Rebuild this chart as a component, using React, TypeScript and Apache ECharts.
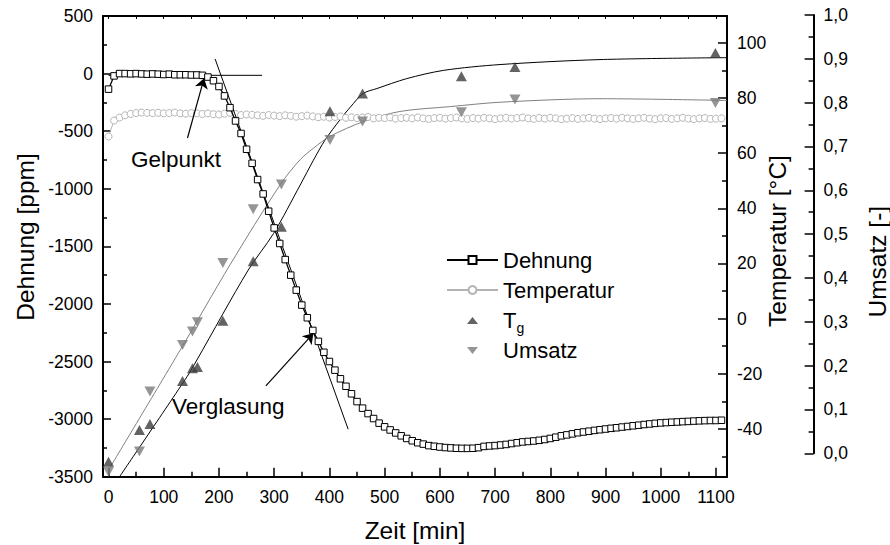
import React, { useEffect, useRef } from "react";
import * as echarts from "echarts";

// ---- data ----
const TIME = [
  0, 10, 20, 30, 40, 50, 60, 70, 80, 90, 100, 110, 120, 130, 140, 150, 160, 170, 180, 190,
  200, 210, 220, 230, 240, 250, 260, 270, 280, 290, 300, 310, 320, 330, 340, 350, 360, 370, 380, 390,
  400, 410, 420, 430, 440, 450, 460, 470, 480, 490, 500, 510, 520, 530, 540, 550, 560, 570, 580, 590,
  600, 610, 620, 630, 640, 650, 660, 670, 680, 690, 700, 710, 720, 730, 740, 750, 760, 770, 780, 790,
  800, 810, 820, 830, 840, 850, 860, 870, 880, 890, 900, 910, 920, 930, 940, 950, 960, 970, 980, 990,
  1000, 1010, 1020, 1030, 1040, 1050, 1060, 1070, 1080, 1090, 1100, 1110,
];

const DEHNUNG = [
  -135, -20, 0, 0, -2, 0, -3, -5, -3, -5, -8, -5, -10, -10, -10, -12, -12, -15, -30, -62,
  -112, -194, -296, -411, -520, -657, -779, -920, -1045, -1195, -1340, -1475, -1615, -1750, -1880, -2010, -2120, -2230, -2325, -2420,
  -2500, -2575, -2650, -2715, -2780, -2848, -2905, -2952, -2995, -3035, -3067, -3094, -3120, -3145, -3168, -3188, -3205, -3217, -3230, -3236,
  -3242, -3247, -3250, -3253, -3254, -3254, -3253, -3248, -3237, -3233, -3230, -3225, -3220, -3212, -3205, -3198, -3194, -3190, -3184, -3177,
  -3168, -3157, -3145, -3137, -3128, -3118, -3112, -3105, -3098, -3092, -3086, -3080, -3075, -3069, -3064, -3058, -3053, -3047, -3042, -3037,
  -3033, -3030, -3027, -3025, -3022, -3020, -3017, -3015, -3013, -3012, -3012, -3010,
];

const TEMPERATUR = [
  66.0, 71.8, 72.9, 73.7, 74.2, 74.5, 74.7, 74.6, 74.5, 74.6, 74.4, 74.5, 74.7, 74.4, 74.3, 74.5, 74.4, 74.2, 74.4, 74.1,
  74.0, 74.3, 74.6, 74.2, 73.8, 74.0, 73.9, 73.7, 73.5, 73.8, 73.6, 73.4, 73.7, 73.5, 73.2, 73.4, 73.6, 73.3, 73.0, 73.2,
  72.9, 73.1, 73.3, 72.8, 73.0, 72.7, 72.9, 73.1, 72.6, 72.8, 72.7, 72.9, 72.5, 72.7, 72.8, 72.6, 72.9, 72.6, 72.4, 72.7,
  72.8, 72.5, 72.7, 72.9, 72.6, 72.4, 72.7, 72.5, 72.8, 72.6, 72.3, 72.6, 72.8, 72.5, 72.7, 72.9, 72.6, 72.4, 72.7, 72.5,
  72.8, 72.6, 72.3, 72.5, 72.7, 72.4, 72.6, 72.8, 72.5, 72.3, 72.6, 72.7, 72.5, 72.8, 72.6, 72.4, 72.6, 72.8, 72.5, 72.3,
  72.6, 72.7, 72.4, 72.6, 72.8, 72.5, 72.3, 72.6, 72.7, 72.4, 72.5, 72.6,
];

const MESS_TIME = [0, 56, 75, 134, 152, 161, 207, 262, 313, 401, 460, 639, 736, 1099];
const TG = [-51.9, -40.4, -38.2, -22.6, -18.0, -17.5, -0.8, 20.8, 33.3, 75.2, 81.6, 87.9, 91.2, 96.3];
const UMSATZ = [-0.042, 0.004, 0.141, 0.247, 0.278, 0.299, 0.434, 0.557, 0.613, 0.715, 0.757, 0.778, 0.807, 0.799];

const TG_FIT_TIME = [20, 142, 160, 253, 299, 347, 371, 392, 420, 438, 461, 486, 540, 607, 709, 890, 1120];
const TG_FIT = [-57.3, -21.1, -15.0, 17.6, 30.9, 48.4, 57.4, 64.7, 72.3, 76.7, 81.6, 83.4, 87.0, 90.0, 92.1, 93.9, 94.6];

const U_FIT_TIME = [0, 130, 220, 311, 347, 371, 401, 462, 528, 619, 709, 890, 1120];
const U_FIT = [-0.038, 0.236, 0.43, 0.613, 0.67, 0.696, 0.723, 0.757, 0.78, 0.791, 0.801, 0.809, 0.805];

// tangent lines [time, Dehnung]
const TANGENT_GEL = [[0, -15], [278, -15]];
const TANGENT_STEEP = [[193, 127], [434, -3088]];
// arrows [from, to] in [time, Dehnung]
const ARROW_GEL = [[143, -559], [173, -41]];
const ARROW_GLAS = [[285, -2712], [371, -2255]];

const X_TICKS = [0, 100, 200, 300, 400, 500, 600, 700, 800, 900, 1000, 1100];
const X_MINOR = [50, 150, 250, 350, 450, 550, 650, 750, 850, 950, 1050];
const X_TOP = [0, 50, 100, 150, 200, 250, 300, 350, 400, 450, 500, 550, 600, 650, 700, 750, 800, 850, 900, 950, 1000, 1050, 1100];
const T_TICKS = [-40, -20, 0, 20, 40, 60, 80, 100];
const T_MINOR = [-50, -30, -10, 10, 30, 50, 70, 90];

const FONT = "'Liberation Sans', Arial, sans-serif";

const zip = (a: number[], b: number[]) => a.map((v, i) => [v, b[i]]);

export default function App() {
  const ref = useRef<HTMLDivElement>(null);

  useEffect(() => {
    if (!ref.current) return;
    const chart = echarts.init(ref.current, undefined, { renderer: "svg" });

    const gridBase = { left: 103, right: 163, containLabel: false, outerBoundsMode: "none" } as any;
    const axisLine = { show: true, onZero: false, lineStyle: { color: "#000", width: 2 } };
    const noLine = { show: false, onZero: false };
    const plain = (v: number) => String(v);
    const label = { color: "#000", fontSize: 17.5, fontFamily: FONT };
    const titleStyle = { fontSize: 24.5, fontFamily: FONT, fill: "#000", align: "center", verticalAlign: "middle" };

    const option: any = {
      animation: false,
      textStyle: { fontFamily: FONT },
      grid: [
        { ...gridBase, top: 16, bottom: 68.3 },
        { ...gridBase, top: 15, bottom: 91.7 },
      ],
      xAxis: [
        {
          type: "value", gridIndex: 0, position: "bottom", min: -10, max: 1120,
          axisLine, splitLine: { show: false },
          axisTick: { show: true, inside: true, length: 9, customValues: X_TICKS, lineStyle: { color: "#000", width: 1.5 } },
          axisLabel: { ...label, margin: 11, customValues: X_TICKS, formatter: plain },
          name: "Zeit [min]", nameLocation: "middle", nameGap: 41,
          nameTextStyle: { color: "#000", fontSize: 24.5, fontFamily: FONT },
        },
        {
          type: "value", gridIndex: 0, position: "bottom", min: -10, max: 1120,
          axisLine: noLine, splitLine: { show: false }, axisLabel: { show: false },
          axisTick: { show: true, inside: true, length: 5, customValues: X_MINOR, lineStyle: { color: "#000", width: 1.5 } },
        },
        {
          type: "value", gridIndex: 0, position: "top", min: -10, max: 1120,
          axisLine, splitLine: { show: false }, axisLabel: { show: false },
          axisTick: { show: true, inside: true, length: 3, customValues: X_TOP, lineStyle: { color: "#000", width: 1 } },
        },
        { type: "value", gridIndex: 1, min: -10, max: 1120, show: false, axisLine: noLine },
      ],
      yAxis: [
        {
          type: "value", gridIndex: 0, position: "left", min: -3500, max: 500, interval: 500,
          axisLine, splitLine: { show: false },
          axisTick: { show: true, inside: true, length: 8, lineStyle: { color: "#000", width: 1.5 } },
          minorTick: { show: true, splitNumber: 2, length: 4, lineStyle: { color: "#000", width: 1.5 } },
          axisLabel: { ...label, margin: 10, formatter: plain },
        },
        {
          type: "value", gridIndex: 0, position: "right", min: -57.3, max: 109.7,
          axisLine, splitLine: { show: false },
          axisTick: { show: true, inside: true, length: 9, customValues: T_TICKS, lineStyle: { color: "#000", width: 1.5 } },
          axisLabel: { ...label, margin: 10, customValues: T_TICKS, formatter: plain },
        },
        {
          type: "value", gridIndex: 0, position: "right", min: -57.3, max: 109.7,
          axisLine: noLine, splitLine: { show: false }, axisLabel: { show: false },
          axisTick: { show: true, inside: true, length: 5, customValues: T_MINOR, lineStyle: { color: "#000", width: 1.5 } },
        },
        {
          type: "value", gridIndex: 1, position: "right", offset: 86.6, min: 0, max: 1, interval: 0.1,
          axisLine, splitLine: { show: false },
          axisTick: { show: true, inside: true, length: 9, lineStyle: { color: "#000", width: 1.5 } },
          minorTick: { show: true, splitNumber: 2, length: 5, lineStyle: { color: "#000", width: 1.5 } },
          axisLabel: { ...label, margin: 10, formatter: (v: number) => v.toFixed(1).replace(".", ",") },
        },
      ],
      legend: {
        data: [
          { name: "Dehnung" },
          { name: "Temperatur" },
          { name: "Tg", icon: "path://M0,0M51,10M20,9L25.5,2L31,9Z" },
          { name: "Umsatz", icon: "path://M0,0M51,10M20,2L31,2L25.5,9Z" },
        ],
        orient: "vertical", left: 441, top: 240, itemWidth: 51, itemHeight: 10, itemGap: 0,
        itemTextGap: 6,
        textStyle: {
          color: "#000", fontSize: 22, lineHeight: 30, fontFamily: FONT,
          rich: {
            a: { fontSize: 22, lineHeight: 30, color: "#000", fontFamily: FONT },
            b: { fontSize: 14, lineHeight: 14, verticalAlign: "bottom", color: "#000", fontFamily: FONT },
          },
        },
        formatter: (n: string) => (n === "Tg" ? "{a|T}{b|g}" : n),
      },
      graphic: [
        { type: "text", left: 131, top: 148, style: { text: "Gelpunkt", fontSize: 22.5, fontFamily: FONT, fill: "#000" } },
        { type: "text", left: 172, top: 395, style: { text: "Verglasung", fontSize: 22.5, fontFamily: FONT, fill: "#000" } },
        { type: "text", x: 25, y: 237, rotation: Math.PI / 2, style: { text: "Dehnung [ppm]", ...titleStyle } },
        { type: "text", x: 777.6, y: 241, rotation: Math.PI / 2, style: { text: "Temperatur [°C]", ...titleStyle } },
        { type: "text", x: 877.5, y: 261.7, rotation: Math.PI / 2, style: { text: "Umsatz [-]", ...titleStyle } },
      ],
      series: [
        {
          name: "Tangente Gel", type: "line", xAxisIndex: 0, yAxisIndex: 0, data: TANGENT_GEL,
          symbol: "none", lineStyle: { color: "#000", width: 1 }, silent: true, z: 3,
          markLine: {
            silent: true, symbol: ["none", "arrow"], symbolSize: 10,
            lineStyle: { color: "#000", width: 1.2, type: "solid" }, label: { show: false },
            data: [
              [{ coord: ARROW_GEL[0] }, { coord: ARROW_GEL[1] }],
              [{ coord: ARROW_GLAS[0] }, { coord: ARROW_GLAS[1] }],
            ],
          },
        },
        {
          name: "Tangente Glas", type: "line", xAxisIndex: 0, yAxisIndex: 0, data: TANGENT_STEEP,
          symbol: "none", lineStyle: { color: "#000", width: 1 }, silent: true, z: 3,
        },
        {
          name: "Temperatur", type: "line", xAxisIndex: 0, yAxisIndex: 1, data: zip(TIME, TEMPERATUR),
          symbol: "circle", symbolSize: 7, showAllSymbol: true,
          itemStyle: { color: "#fff", borderColor: "#b4b4b4", borderWidth: 1 },
          lineStyle: { color: "#b4b4b4", width: 1 }, z: 2,
        },
        {
          name: "Tg-Fit", type: "line", xAxisIndex: 0, yAxisIndex: 1, data: zip(TG_FIT_TIME, TG_FIT),
          symbol: "none", smooth: 0.3, lineStyle: { color: "#000", width: 1 }, z: 2,
        },
        {
          name: "Umsatz-Fit", type: "line", xAxisIndex: 3, yAxisIndex: 3, data: zip(U_FIT_TIME, U_FIT),
          symbol: "none", smooth: 0.3, clip: false, lineStyle: { color: "#808080", width: 1 }, z: 2,
        },
        {
          name: "Dehnung", type: "line", xAxisIndex: 0, yAxisIndex: 0, data: zip(TIME, DEHNUNG),
          symbol: "rect", symbolSize: 6.5, showAllSymbol: true,
          itemStyle: { color: "#fff", borderColor: "#000", borderWidth: 1 },
          lineStyle: { color: "#000", width: 1.3 }, z: 4,
        },
        {
          name: "Tg", type: "scatter", xAxisIndex: 0, yAxisIndex: 1, data: zip(MESS_TIME, TG),
          symbol: "triangle", symbolSize: [11, 10], itemStyle: { color: "#3c3c3c" }, z: 5,
        },
        {
          name: "Umsatz", type: "scatter", xAxisIndex: 3, yAxisIndex: 3, data: zip(MESS_TIME, UMSATZ),
          symbol: "triangle", symbolRotate: 180, symbolSize: [11, 10], clip: false,
          itemStyle: { color: "#7a7a7a" }, z: 5,
        },
      ],
    };

    chart.setOption(option);
    return () => chart.dispose();
  }, []);

  return (
    <div
      ref={ref}
      style={{ position: "fixed", left: 0, top: 0, width: 890, height: 545, background: "#fff" }}
    />
  );
}
